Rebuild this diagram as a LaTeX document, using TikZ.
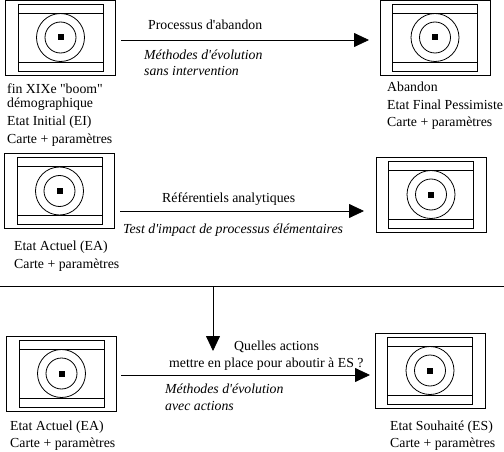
\documentclass[tikz,border=0pt]{standalone}
\usepackage{fontspec}
\setmainfont{Liberation Serif}
\usetikzlibrary{arrows.meta}
\font\labfont="Liberation Serif" at 13.8pt
\font\ilabfont="Liberation Serif/I" at 13.8pt
\tikzset{
  ln/.style={line width=0.8pt,black},
  flow/.style={ln,-{Triangle[length=15pt,width=14pt]}},
  lab/.style={anchor=base west,inner sep=0pt,font=\labfont},
  ilab/.style={anchor=base west,inner sep=0pt,font=\ilabfont},
  icon/.pic={
    \node[ln,draw,minimum width=110pt,minimum height=75pt,inner sep=0pt] (-outer) at (0,0) {};
    \draw[ln] (-42.5,-33.5) rectangle (42.5,33.5);
    \draw[ln] (-42.5,-24.5) -- (42.5,-24.5) (-42.5,24.5) -- (42.5,24.5);
    \draw[ln] (0,0) circle[radius=24];
    \draw[ln] (0,0) circle[radius=15.5];
    \fill[black] (-3,-3) rectangle (3,3);
  }
}
\begin{document}
\begin{tikzpicture}[x=1pt,y=-1pt]
\useasboundingbox (0,0) rectangle (504,452);
\pic (i1) at (60.5,37.5) {icon};
\pic (i2) at (435,37.5) {icon};
\pic (i3) at (59.5,191) {icon};
\pic (i4) at (431,194.5) {icon};
\pic (i5) at (61.5,373.5) {icon};
\pic (i6) at (430,370.5) {icon};
\coordinate (a1s) at (121,40); \coordinate (a1e) at (369,40);
\coordinate (a2s) at (120,211); \coordinate (a2e) at (364,211);
\coordinate (a3s) at (121,375); \coordinate (a3e) at (370,375);
\coordinate (v1s) at (213,286); \coordinate (v1e) at (213,351);
\coordinate (h1s) at (0,286); \coordinate (h1e) at (504,286);
\draw[flow] (a1s) -- (a1e);
\draw[flow] (a2s) -- (a2e);
\draw[flow] (a3s) -- (a3e);
\draw[ln] (h1s) -- (h1e);
\draw[flow] (v1s) -- (v1e);
\node[lab] (t1) at (7,94) {fin XIXe "boom"};
\node[lab] (t2) at (7,108) {démographique};
\node[lab] (t3) at (7,125) {Etat Initial (EI)};
\node[lab] (t4) at (7,143) {Carte + paramètres};
\node[lab] (t5) at (148,30) {Processus d'abandon};
\node[ilab] (t6) at (144,60) {Méthodes d'évolution};
\node[ilab] (t7) at (144,76) {sans intervention};
\node[lab] (t8) at (387,92) {Abandon};
\node[lab] (t9) at (387,110) {Etat Final Pessimiste};
\node[lab] (t10) at (387,127) {Carte + paramètres};
\node[lab] (t11) at (162,202) {Référentiels analytiques};
\node[ilab] (t12) at (123,233) {Test d'impact de processus élémentaires};
\node[lab] (t13) at (14,250) {Etat Actuel (EA)};
\node[lab] (t14) at (14,268) {Carte + paramètres};
\node[lab] (t15) at (234,350) {Quelles actions};
\node[lab] (t16) at (169,367) {mettre en place pour aboutir à ES ?};
\node[ilab] (t17) at (165,393) {Méthodes d'évolution};
\node[ilab] (t18) at (165,410) {avec actions};
\node[lab] (t19) at (10,430) {Etat Actuel (EA)};
\node[lab] (t20) at (10,447) {Carte + paramètres};
\node[lab] (t21) at (390,430) {Etat Souhaité (ES)};
\node[lab] (t22) at (390,447) {Carte + paramètres};
\end{tikzpicture}
\end{document}
